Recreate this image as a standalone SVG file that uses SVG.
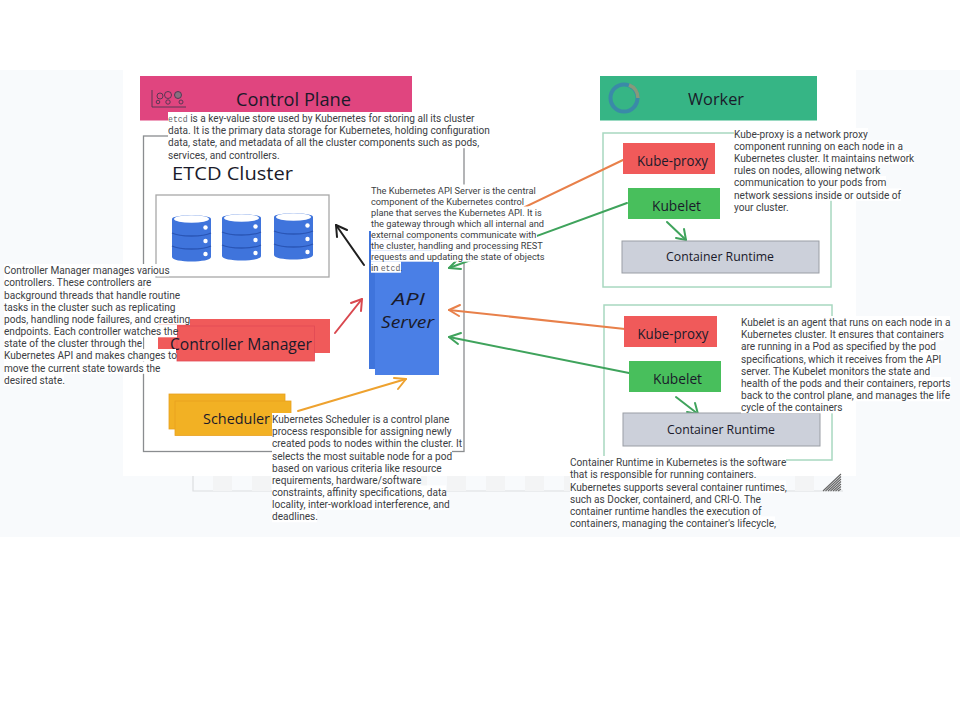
<svg xmlns="http://www.w3.org/2000/svg" width="960" height="720" viewBox="0 0 960 720">
<style>
.b{font:10.1px Roboto,"Liberation Sans",sans-serif;fill:#3c4043}
.a{font-size:9.25px}
.m{font:8.2px "Liberation Mono","DejaVu Sans Mono",monospace;fill:#5f6368}
.h{font-family:"Open Sans","DejaVu Sans",sans-serif;fill:#1a1a2a;text-anchor:middle;dominant-baseline:central}
.i{font-style:italic}
.w{fill:#fff}
.f{fill:none;stroke:#8a8d90;stroke-width:1.3}
.g{fill:none;stroke:#a8d8c0;stroke-width:1.5}
.c{fill:none;stroke-width:2;stroke-linecap:round;stroke-linejoin:round}
</style>
<defs>
<g id="db">
<path d="M0 5C0 0 39 0 39 5V43C39 49 0 49 0 43Z" fill="#3f74dc"/>
<ellipse cx="19.500" cy="5" rx="17.500" ry="3.800" fill="#fff"/>
<path d="M0 19C8 23 31 23 39 19M0 32C8 36 31 36 39 32" fill="none" stroke="#2a55b5" stroke-width="1.300"/>
<circle cx="33.500" cy="13.500" r="2.200" fill="#fff"/><circle cx="33.500" cy="27" r="2.200" fill="#fff"/><circle cx="33.500" cy="40" r="2.200" fill="#fff"/>
</g>
</defs>
<rect y="70" width="960" height="467" fill="#f8fafc"/>
<rect x="123" y="70" width="733" height="406" fill="#fff"/>
<g id="page-frame">
<path d="M193 476V491H843" fill="none" stroke="#dcdee0" stroke-width="1.200"/>
<g fill="#f3f4f5"><rect x="213" y="476" width="19" height="15"/><rect x="252" y="476" width="19" height="15"/><rect x="291" y="476" width="19" height="15"/><rect x="330" y="476" width="19" height="15"/><rect x="369" y="476" width="19" height="15"/><rect x="408" y="476" width="19" height="15"/><rect x="447" y="476" width="19" height="15"/><rect x="486" y="476" width="19" height="15"/><rect x="525" y="476" width="19" height="15"/><rect x="564" y="476" width="19" height="15"/><rect x="795" y="476" width="19" height="15"/></g>
<path d="M823 491L841 474M825.500 491L841 476.500M828 491L841 479M830.500 491L841 481.500M833 491L841 484M835.500 491L841 486.500M838 491L841 489" stroke="#666" stroke-width="1.100"/>
</g>
<g id="frames">
<rect class="f" x="143.500" y="136" width="320.500" height="315.500"/>
<rect class="g" x="603" y="133" width="228" height="154"/>
<rect class="g" x="604" y="305" width="228" height="155"/>
</g>
<g id="control-plane">
<rect x="140" y="76" width="272" height="44.500" fill="#e0457f"/>
<g fill="none" stroke="#4a3550" stroke-width=".9"><path d="M152 90V107H186"/><circle cx="160" cy="96" r="3"/><circle cx="168" cy="95" r="3.500"/><circle cx="178" cy="95" r="3.500" fill="#88707f"/><circle cx="158" cy="102" r="1.800"/><circle cx="168" cy="102" r="2.200"/><circle cx="181" cy="102" r="2"/></g>
<text class="h" x="293.500" y="99" font-size="19" textLength="115" lengthAdjust="spacingAndGlyphs">Control Plane</text>
</g>
<g id="worker">
<rect x="600" y="76" width="217" height="44.500" fill="#36b585"/>
<circle cx="624" cy="98" r="13.500" fill="none" stroke="#3a8aa8" stroke-width="4"/>
<path d="M629 85A14 14 0 0 1 638 98" fill="none" stroke="#88997a" stroke-width="3.500"/>
<text class="h" x="716" y="98" font-size="17" textLength="56" lengthAdjust="spacingAndGlyphs">Worker</text>
</g>
<g id="etcd-cluster">
<text class="h" x="232.500" y="173" font-size="19" textLength="121" lengthAdjust="spacingAndGlyphs">ETCD Cluster</text>
<rect x="156" y="195" width="173" height="82" fill="#fff" stroke="#a8a8a8" stroke-width="1.300"/>
<use href="#db" x="172" y="214"/><use href="#db" x="222" y="213"/><use href="#db" x="274" y="212"/>
</g>
<g id="connectors">
<g class="c">
<g stroke="#1f1f1f"><path d="M364 265L336 225"/><path d="M337 237L336 225L347 230"/></g>
<g stroke="#d9484f"><path d="M335 333L362 299"/><path d="M351 303L362 299L361 311"/></g>
<g stroke="#eea22f"><path d="M298 411L406 379"/><path d="M394 378L406 379L398 389"/></g>
<g stroke="#e8804a"><path d="M623 160L450 243"/><path d="M625 329L449 310"/><path d="M460 305L449 310L459 316"/></g>
<g stroke="#3fa35c"><path d="M627 203L449 268"/><path d="M458 259L449 268L461 269"/><path d="M629 373L449 337"/><path d="M461 333L449 337L458 344"/><path d="M667 222L686 240"/><path d="M676 238L686 240L684 229"/><path d="M676 397L698 414"/><path d="M687 412L698 414L695 403"/></g>
</g>
</g>
<g id="api-server">
<rect x="369" y="231" width="64" height="138" fill="#3f74dc"/>
<rect x="375" y="262" width="64" height="113" fill="#4a7fe6"/>
<text class="h i" x="408.500" y="299" font-size="16" textLength="33" lengthAdjust="spacingAndGlyphs">API</text>
<text class="h i" x="407.500" y="322" font-size="16" textLength="53" lengthAdjust="spacingAndGlyphs">Server</text>
</g>
<g id="controller-manager">
<rect x="158" y="319" width="172" height="34" fill="#f05a5a"/>
<rect x="177" y="326" width="137.500" height="35" fill="#f05a5a" stroke="#e04a55" stroke-width=".8"/>
<text class="h" x="241" y="344" font-size="16" textLength="142" lengthAdjust="spacingAndGlyphs">Controller Manager</text>
</g>
<g id="scheduler">
<rect x="169" y="394" width="116" height="35" fill="#f2b124" stroke="#e8a020" stroke-width=".8"/>
<rect x="175" y="401" width="116" height="34.500" fill="#f2b124" stroke="#e8a020" stroke-width=".8"/>
<text class="h" x="236.500" y="418" font-size="15" textLength="67" lengthAdjust="spacingAndGlyphs">Scheduler</text>
</g>
<g id="kube-proxy-1"><rect x="623" y="143" width="92" height="31" fill="#f05a5a"/><text class="h" x="672.500" y="160" font-size="14" textLength="71" lengthAdjust="spacingAndGlyphs">Kube-proxy</text></g>
<g id="kubelet-1"><rect x="628" y="188" width="92" height="31" fill="#48bf5c"/><text class="h" x="676.500" y="205" font-size="14" textLength="49" lengthAdjust="spacingAndGlyphs">Kubelet</text></g>
<g id="runtime-1"><rect x="622" y="241" width="197" height="32" fill="#ccd0da" stroke="#9a9ea5"/><text class="h" x="720" y="256" font-size="12.500" textLength="108" lengthAdjust="spacingAndGlyphs">Container Runtime</text></g>
<g id="kube-proxy-2"><rect x="624" y="316" width="93" height="31" fill="#f05a5a"/><text class="h" x="673" y="333" font-size="14" textLength="71" lengthAdjust="spacingAndGlyphs">Kube-proxy</text></g>
<g id="kubelet-2"><rect x="629" y="361" width="92" height="31" fill="#48bf5c"/><text class="h" x="677.500" y="378" font-size="14" textLength="49" lengthAdjust="spacingAndGlyphs">Kubelet</text></g>
<g id="runtime-2"><rect x="623" y="413" width="197" height="33" fill="#ccd0da" stroke="#9a9ea5"/><text class="h" x="721" y="429" font-size="12.500" textLength="108" lengthAdjust="spacingAndGlyphs">Container Runtime</text></g>
<g id="etcd-note">
<g class="w"><rect x="168" y="112" width="306" height="12.200"/><rect x="168" y="124" width="322" height="12.200"/><rect x="168" y="136" width="312" height="12.200"/><rect x="168" y="148" width="111" height="12.200"/></g>
<text class="b" y="122"><tspan class="m" x="168">etcd</tspan> is a key-value store used by Kubernetes for storing all its cluster</text>
<text class="b" x="168" y="134">data. It is the primary data storage for Kubernetes, holding configuration</text>
<text class="b" x="168" y="146">data, state, and metadata of all the cluster components such as pods,</text>
<text class="b" x="168" y="158.500">services, and controllers.</text>
</g>
<g id="api-note">
<g class="w"><rect x="371" y="184.500" width="166" height="11.200"/><rect x="371" y="195.500" width="153" height="11.200"/><rect x="371" y="206.500" width="172" height="11.200"/><rect x="371" y="217.500" width="173" height="11.200"/><rect x="371" y="228.500" width="166" height="11.200"/><rect x="371" y="239.500" width="172" height="11.200"/><rect x="371" y="250.500" width="174" height="11.200"/><rect x="371" y="261.500" width="30" height="11.200"/></g>
<text class="b a" x="371" y="193.500">The Kubernetes API Server is the central</text>
<text class="b a" x="371" y="204.500">component of the Kubernetes control</text>
<text class="b a" x="371" y="215.500">plane that serves the Kubernetes API. It is</text>
<text class="b a" x="371" y="226.500">the gateway through which all internal and</text>
<text class="b a" x="371" y="237.500">external components communicate with</text>
<text class="b a" x="371" y="248.500">the cluster, handling and processing REST</text>
<text class="b a" x="371" y="259.500">requests and updating the state of objects</text>
<text class="b a" y="271"><tspan x="371">in </tspan><tspan class="m" font-size="7.500">etcd</tspan>.</text>
</g>
<g id="controller-note">
<g class="w"><rect x="4" y="264" width="165" height="12.300"/><rect x="4" y="276" width="147" height="12.300"/><rect x="4" y="288.500" width="176" height="12.300"/><rect x="4" y="300.500" width="171" height="12.300"/><rect x="4" y="312.500" width="186" height="12.300"/><rect x="4" y="325" width="173" height="12.300"/><rect x="4" y="337" width="139" height="12.300"/><rect x="4" y="349" width="172" height="12.300"/><rect x="4" y="361.500" width="156" height="12.300"/><rect x="4" y="373.500" width="60" height="12.300"/></g>
<text class="b" x="4" y="274">Controller Manager manages various</text>
<text class="b" x="4" y="286">controllers. These controllers are</text>
<text class="b" x="4" y="298.500">background threads that handle routine</text>
<text class="b" x="4" y="310.500">tasks in the cluster such as replicating</text>
<text class="b" x="4" y="322.500">pods, handling node failures, and creating</text>
<text class="b" x="4" y="335">endpoints. Each controller watches the</text>
<text class="b" x="4" y="347">state of the cluster through the</text>
<text class="b" x="4" y="359">Kubernetes API and makes changes to</text>
<text class="b" x="4" y="371.500">move the current state towards the</text>
<text class="b" x="4" y="383.500">desired state.</text>
</g>
<g id="scheduler-note">
<g class="w"><rect x="272" y="413" width="177" height="12.300"/><rect x="272" y="425" width="179" height="12.300"/><rect x="272" y="437" width="188" height="12.300"/><rect x="272" y="449.500" width="180" height="12.300"/><rect x="272" y="461.500" width="169" height="12.300"/><rect x="272" y="473.500" width="149" height="12.300"/><rect x="272" y="485.500" width="174" height="12.300"/><rect x="272" y="497.500" width="177" height="12.300"/><rect x="272" y="510" width="45" height="12.300"/></g>
<text class="b" x="272" y="423">Kubernetes Scheduler is a control plane</text>
<text class="b" x="272" y="435">process responsible for assigning newly</text>
<text class="b" x="272" y="447">created pods to nodes within the cluster. It</text>
<text class="b" x="272" y="459.500">selects the most suitable node for a pod</text>
<text class="b" x="272" y="471.500">based on various criteria like resource</text>
<text class="b" x="272" y="483.500">requirements, hardware/software</text>
<text class="b" x="272" y="495.500">constraints, affinity specifications, data</text>
<text class="b" x="272" y="507.500">locality, inter-workload interference, and</text>
<text class="b" x="272" y="520">deadlines.</text>
</g>
<g id="kube-proxy-note">
<g class="w"><rect x="734" y="128" width="134" height="12.300"/><rect x="734" y="140" width="169" height="12.300"/><rect x="734" y="152" width="180" height="12.300"/><rect x="734" y="164" width="146" height="12.300"/><rect x="734" y="176" width="152" height="12.300"/><rect x="734" y="188.500" width="167" height="12.300"/><rect x="734" y="200.500" width="54" height="12.300"/></g>
<text class="b" x="734" y="138">Kube-proxy is a network proxy</text>
<text class="b" x="734" y="150">component running on each node in a</text>
<text class="b" x="734" y="162">Kubernetes cluster. It maintains network</text>
<text class="b" x="734" y="174">rules on nodes, allowing network</text>
<text class="b" x="734" y="186">communication to your pods from</text>
<text class="b" x="734" y="198.500">network sessions inside or outside of</text>
<text class="b" x="734" y="210.500">your cluster.</text>
</g>
<g id="kubelet-note">
<g class="w"><rect x="741" y="316" width="209" height="12.300"/><rect x="741" y="328" width="203" height="12.300"/><rect x="741" y="340" width="194" height="12.300"/><rect x="741" y="352.500" width="200" height="12.300"/><rect x="741" y="364.500" width="190" height="12.300"/><rect x="741" y="377" width="210" height="12.300"/><rect x="741" y="389" width="209" height="12.300"/><rect x="741" y="401" width="101" height="12.300"/></g>
<text class="b" x="741" y="326">Kubelet is an agent that runs on each node in a</text>
<text class="b" x="741" y="338">Kubernetes cluster. It ensures that containers</text>
<text class="b" x="741" y="350">are running in a Pod as specified by the pod</text>
<text class="b" x="741" y="362.500">specifications, which it receives from the API</text>
<text class="b" x="741" y="374.500">server. The Kubelet monitors the state and</text>
<text class="b" x="741" y="387">health of the pods and their containers, reports</text>
<text class="b" x="741" y="399">back to the control plane, and manages the life</text>
<text class="b" x="741" y="411">cycle of the containers</text>
</g>
<g id="runtime-note">
<g class="w"><rect x="570" y="456" width="216" height="12.300"/><rect x="570" y="468" width="186" height="12.300"/><rect x="570" y="480.500" width="216" height="12.300"/><rect x="570" y="492.500" width="181" height="12.300"/><rect x="570" y="504.500" width="191" height="12.300"/><rect x="570" y="516.500" width="205" height="12.300"/></g>
<text class="b" x="570" y="466">Container Runtime in Kubernetes is the software</text>
<text class="b" x="570" y="478">that is responsible for running containers.</text>
<text class="b" x="570" y="490.500">Kubernetes supports several container runtimes,</text>
<text class="b" x="570" y="502.500">such as Docker, containerd, and CRI-O. The</text>
<text class="b" x="570" y="514.500">container runtime handles the execution of</text>
<text class="b" x="570" y="526.500">containers, managing the container's lifecycle,</text>
</g>
</svg>
